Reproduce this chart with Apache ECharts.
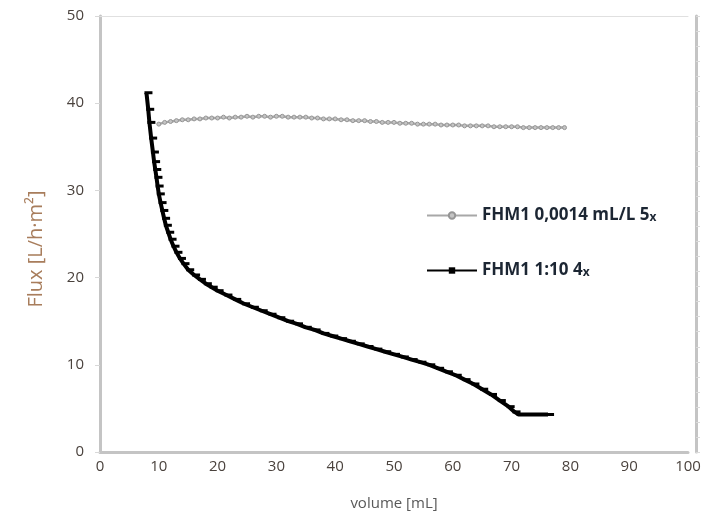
<!DOCTYPE html>
<html><head><meta charset="utf-8">
<script src="https://cdn.jsdelivr.net/npm/echarts@6/dist/echarts.min.js"></script>
<style>html,body{margin:0;padding:0;background:#fff}#c{width:715px;height:520px}</style>
</head><body><div id="c"></div>
<script>
// Series 1: FHM1 0,0014 mL/L 5x (gray)
const volA = [10,11,12,13,14,15,16,17,18,19,20,21,22,23,24,25,26,27,28,29,30,31,32,33,34,35,36,37,38,39,40,41,42,43,44,45,46,47,48,49,50,51,52,53,54,55,56,57,58,59,60,61,62,63,64,65,66,67,68,69,70,71,72,73,74,75,76,77,78,79];
const fluxA = [37.6,37.8,37.9,38.0,38.1,38.1,38.2,38.2,38.3,38.3,38.3,38.4,38.3,38.4,38.4,38.5,38.4,38.5,38.5,38.4,38.5,38.5,38.4,38.4,38.4,38.4,38.3,38.3,38.2,38.2,38.2,38.1,38.1,38.0,38.0,38.0,37.9,37.9,37.8,37.8,37.8,37.7,37.7,37.7,37.6,37.6,37.6,37.6,37.5,37.5,37.5,37.5,37.4,37.4,37.4,37.4,37.4,37.3,37.3,37.3,37.3,37.3,37.2,37.2,37.2,37.2,37.2,37.2,37.2,37.2];
// Series 2: FHM1 1:10 4x (black)
const volB = [7.9,8.2,8.4,8.7,9.0,9.2,9.4,9.6,9.8,10.0,10.3,10.6,10.9,11.2,11.6,12.0,12.5,13.0,13.6,14.2,15.0,16.0,17.0,18.0,19.0,20.0,21.5,23.0,24.5,26.0,27.5,29.0,30.5,32.0,33.5,35.0,36.5,38.0,39.5,41.0,42.5,44.0,45.5,47.0,48.5,50.0,51.5,53.0,54.5,56.0,57.5,59.0,60.5,62.0,63.5,65.0,66.5,68.0,69.5,70.5,71.2,72.5,74.0,75.5,76.2];
const fluxB = [41.2,39.3,37.8,36.0,34.4,33.3,32.4,31.5,30.5,29.6,28.6,27.7,26.8,26.0,25.2,24.4,23.6,22.9,22.2,21.6,20.9,20.3,19.8,19.3,18.9,18.5,18.0,17.5,17.0,16.6,16.2,15.8,15.4,15.0,14.7,14.3,14.0,13.6,13.3,13.0,12.7,12.4,12.1,11.8,11.5,11.2,10.9,10.6,10.3,10.0,9.6,9.2,8.8,8.3,7.8,7.2,6.6,5.9,5.2,4.6,4.3,4.3,4.3,4.3,4.3];
const nameA = 'FHM1 0,0014 mL/L 5x';
const nameB = 'FHM1 1:10 4x';
const xTicks = {min:0, max:100, interval:10};
const yTicks = {min:0, max:50, interval:10};

const font = '"Open Sans", Lato, sans-serif';
const chart = echarts.init(document.getElementById('c'), null, {renderer:'canvas'});
const zip = (xs, ys) => xs.map((x,i)=>[x, ys[i]]);
chart.setOption({
  animation:false,
  backgroundColor:'#fff',
  grid:{left:100, right:27, top:16, bottom:68},
  legend:{
    orient:'vertical', left:421, top:202, itemGap:38, itemWidth:50, itemHeight:8,
    data:[nameA, nameB],
    formatter: n => { const base = n.slice(0,-1); return '{a|'+base+'}{b|x}'; },
    textStyle:{fontFamily:font, fontSize:17, fontWeight:'bold', color:'#1c2633',
      rich:{a:{fontFamily:font, fontSize:17, fontWeight:'bold', color:'#1c2633'},
            b:{fontFamily:font, fontSize:12, fontWeight:'bold', color:'#1c2633', padding:[5,0,0,0]}}}
  },
  xAxis:[{
    type:'value', min:xTicks.min, max:xTicks.max, interval:xTicks.interval,
    name:'volume [mL]', nameLocation:'middle', nameGap:44,
    nameTextStyle:{fontFamily:font, fontSize:15, color:'#595959'},
    axisLine:{show:true, lineStyle:{color:'#c4c4c4', width:3}},
    axisTick:{show:false},
    axisLabel:{fontFamily:font, fontSize:15, color:'#4a423d', margin:7},
    splitLine:{show:false}
  },{
    type:'value', position:'top', min:0, max:100,
    axisLine:{show:true, onZero:false, lineStyle:{color:'#e0e0e0', width:1}},
    axisTick:{show:false}, axisLabel:{show:false}, splitLine:{show:false}
  }],
  yAxis:[{
    type:'value', min:yTicks.min, max:yTicks.max, interval:yTicks.interval,
    name:'Flux [L/h·m²]', nameLocation:'middle', nameGap:54,
    nameTextStyle:{fontFamily:font, fontSize:20, color:'#a87d5c', padding:[0,30,0,0]},
    axisLine:{show:true, lineStyle:{color:'#c4c4c4', width:3}},
    axisTick:{show:true, length:5, lineStyle:{color:'#d8d8d8'}},
    axisLabel:{fontFamily:font, fontSize:15, color:'#4a423d', margin:16},
    splitLine:{show:false}
  },{
    type:'value', position:'right', offset:8, min:0, max:29, interval:1,
    axisLine:{show:true, onZero:false, lineStyle:{color:'#c4c4c4', width:3}},
    axisTick:{show:true, length:4, lineStyle:{color:'#dadada'}},
    axisLabel:{show:false}, splitLine:{show:false}
  }],
  series:[{
    name:nameA, type:'line', data:zip(volA, fluxA),
    symbol:'circle', symbolSize:4, showAllSymbol:true,
    lineStyle:{color:'#a8a8a8', width:2.5},
    itemStyle:{color:'#c4c4c4', borderColor:'#969696', borderWidth:1}
  },{
    name:nameB, type:'line', data:zip(volB, fluxB),
    symbol:'rect', symbolSize:[8,3], showAllSymbol:true, symbolOffset:[2,0],
    lineStyle:{color:'#000', width:4},
    itemStyle:{color:'#000'}
  }]
});
</script></body></html>
